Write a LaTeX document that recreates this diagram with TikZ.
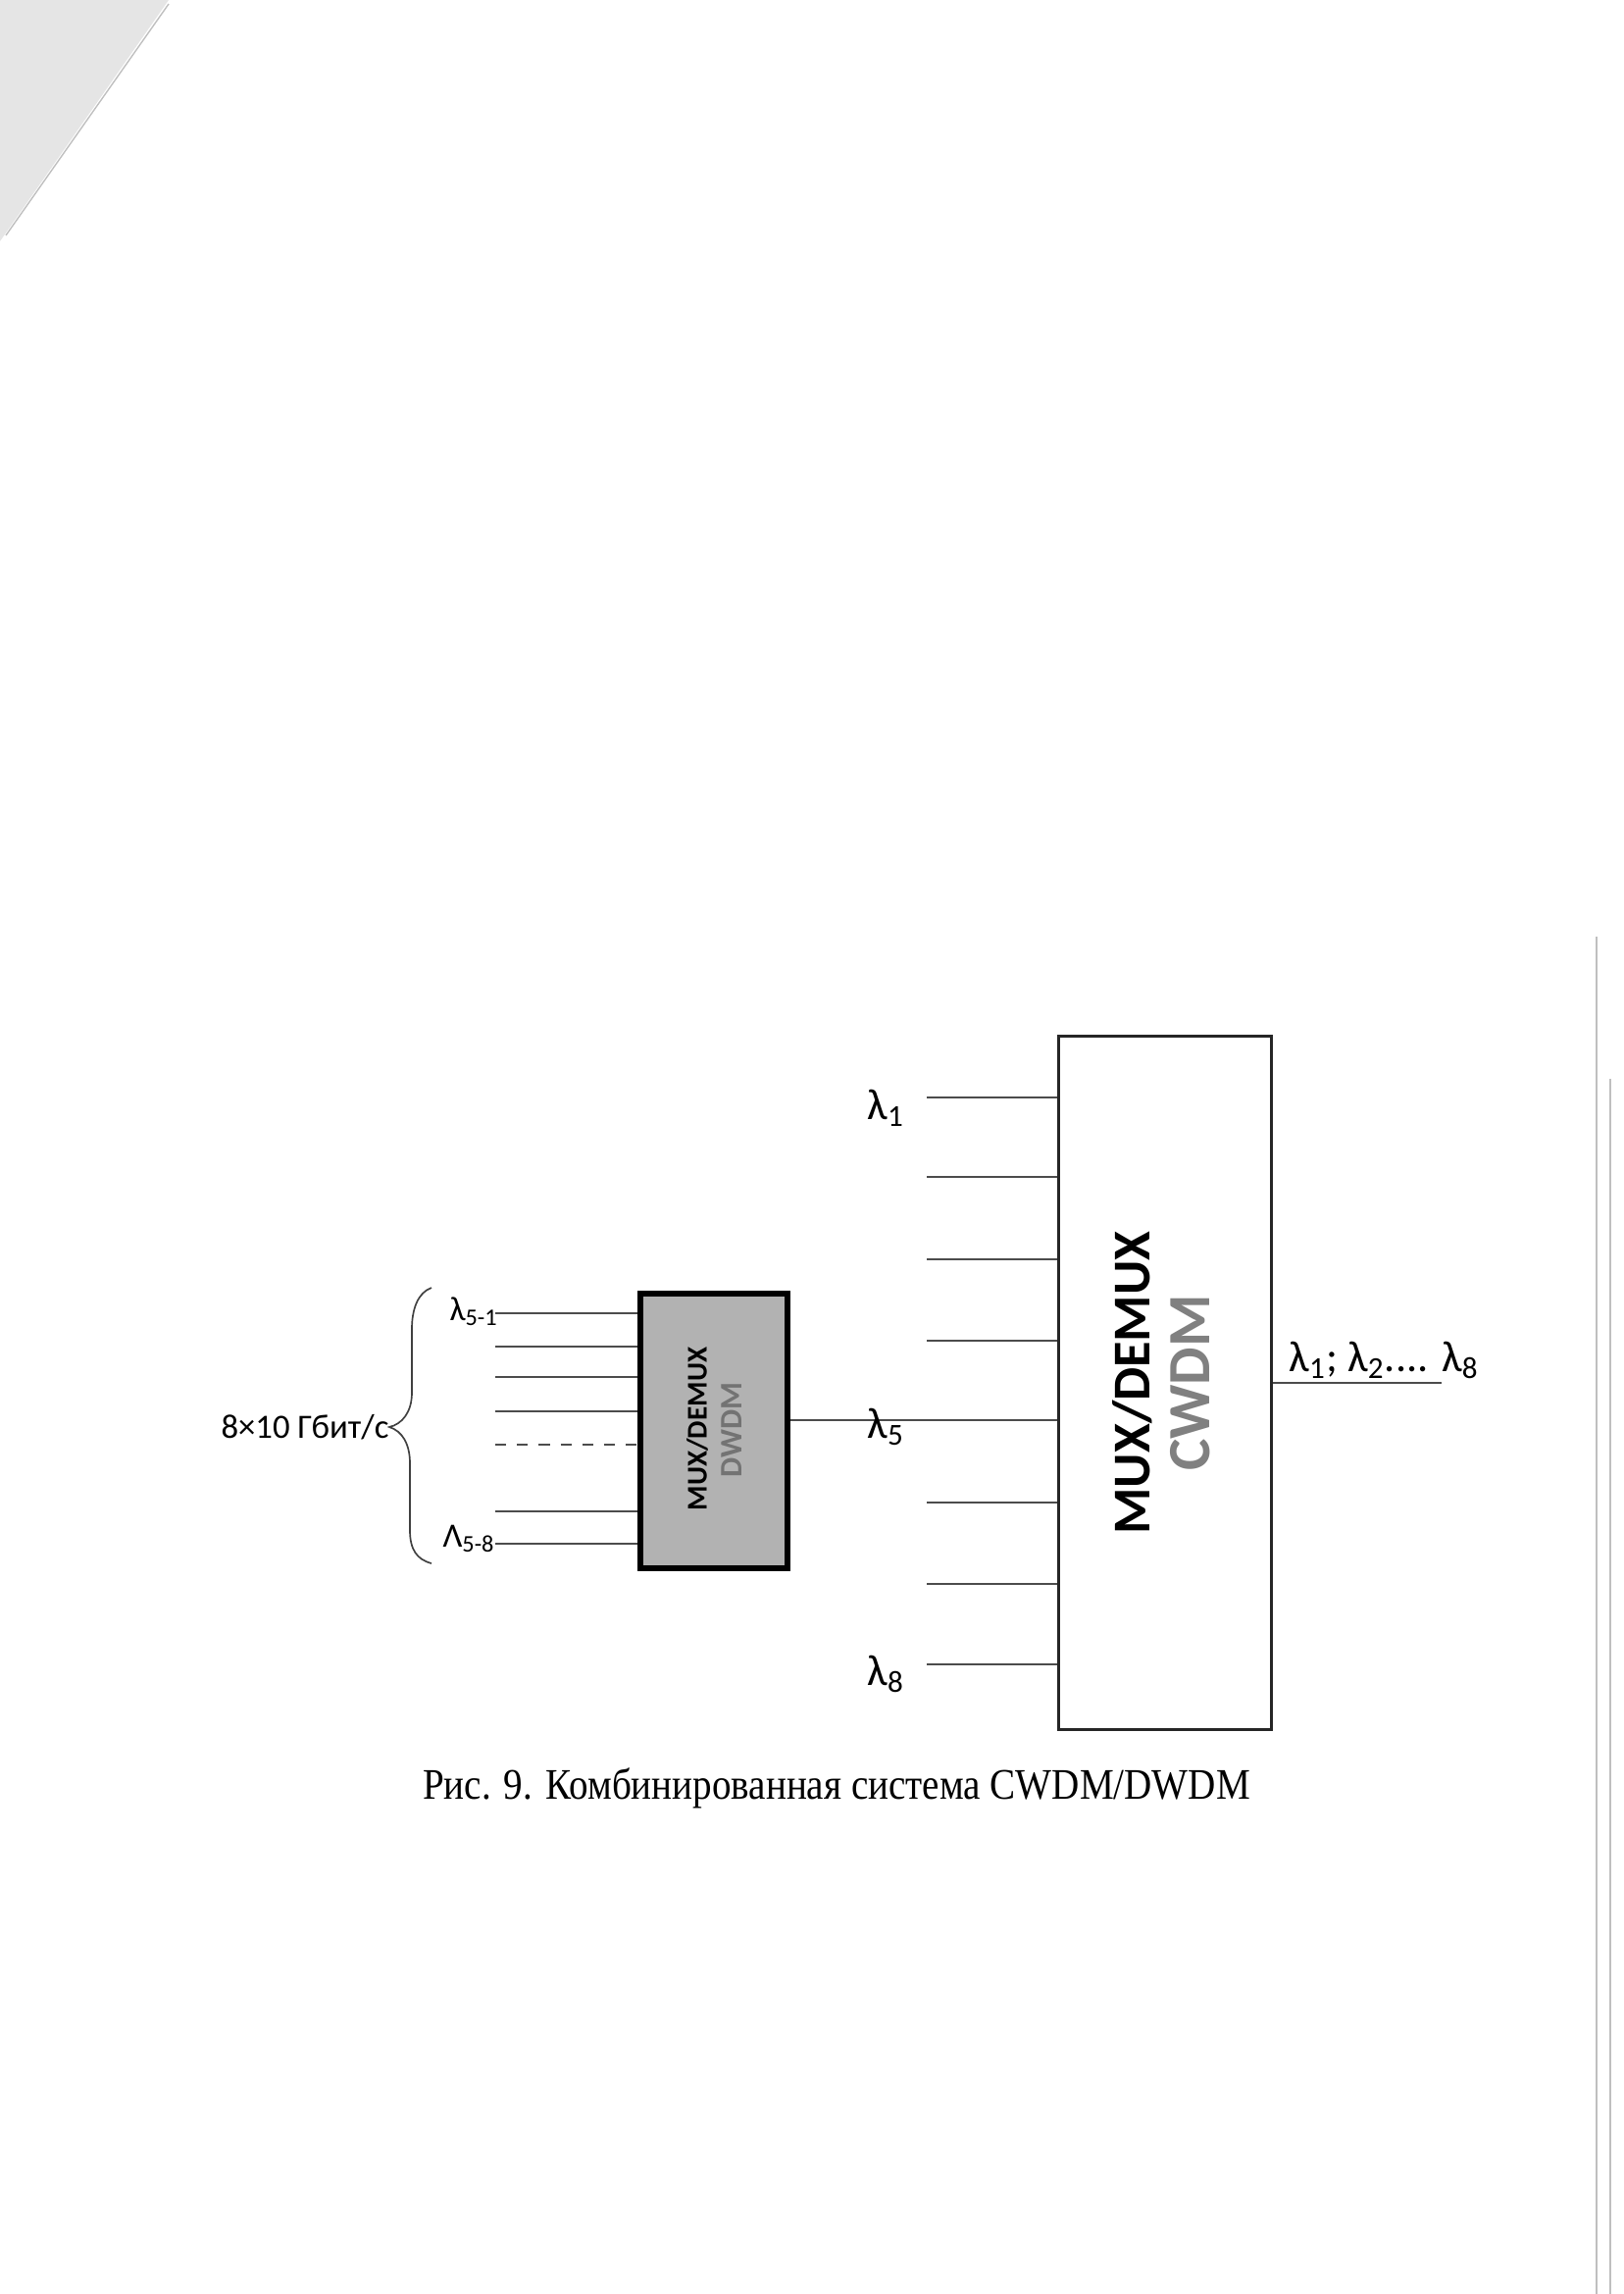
\documentclass[tikz,border=0pt]{standalone}
\usepackage{fontspec}
\setmainfont{Liberation Serif}
\newfontfamily\calfont{Carlito}
\begin{document}
\begin{tikzpicture}[x=0.36pt,y=-0.36pt,
  wire/.style={draw=black!70,line width=0.75pt},
  cwdmbox/.style={draw=black!85,line width=1.1pt,fill=white,minimum width=78.1pt,minimum height=254.2pt,inner sep=0pt},
  dwdmbox/.style={draw=black,line width=2.2pt,fill=black!30,minimum width=54pt,minimum height=100.8pt,inner sep=0pt},
  lam/.style={font=\calfont\fontsize{16}{16}\selectfont,inner sep=0pt},
  slam/.style={font=\calfont\fontsize{12.5}{13}\selectfont,inner sep=0pt},
  bigtxt/.style={rotate=90,font=\calfont\bfseries\fontsize{19.5}{20}\selectfont,inner sep=0pt},
  smalltxt/.style={rotate=90,font=\calfont\bfseries\fontsize{10.5}{11}\selectfont,inner sep=0pt},
  brace/.style={draw=black!75,line width=0.6pt},
  scan/.style={draw=black!25,line width=0.5pt}]
\useasboundingbox (0,0) rectangle (1656,2339);
% scan artefacts
\fill[black!10] (0,0) -- (172,0) -- (0,246) -- cycle;
\draw[scan] (172,4) -- (6,240);
\draw[scan] (1628,955) -- (1628,2339);
\draw[scan] (1642,1100) -- (1642,2339);
% boxes
\node[cwdmbox] (cwdm) at (1188,1410) {};
\node[dwdmbox] (dwdm) at (728,1459) {};
\node[bigtxt,text=black] (cwdmA) at (1155,1410) {MUX/DEMUX};
\node[bigtxt,text=black!50,font=\calfont\bfseries\fontsize{22}{22}\selectfont] (cwdmB) at (1214,1410) {CWDM};
\node[smalltxt,text=black] (dwdmA) at (711,1457) {MUX/DEMUX};
\node[smalltxt,text=black!55,font=\calfont\bfseries\fontsize{11.5}{12}\selectfont] (dwdmB) at (746,1458) {DWDM};
% CWDM inputs
\foreach \i/\y in {1/1119,2/1200,3/1284,4/1367,6/1532,7/1615,8/1697}{
  \coordinate (ci\i) at (945,\y);
  \draw[wire] (ci\i) -- (ci\i -| cwdm.west);
}
\coordinate (ci5) at (945,1448);
\draw[wire] (dwdm.east |- ci5) -- (ci5 -| cwdm.west);
% DWDM inputs
\foreach \i/\y in {1/1339,2/1373,3/1404,4/1439,6/1541,7/1574}{
  \coordinate (di\i) at (505,\y);
  \draw[wire] (di\i) -- (di\i -| dwdm.west);
}
\coordinate (di5) at (505,1473);
\draw[wire,dash pattern=on 4pt off 4pt] (di5) -- (di5 -| dwdm.west);
% output
\coordinate (out) at (1470,1410);
\draw[wire] (out -| cwdm.east) -- (out);
% labels
\node[lam,anchor=base west] (l1) at (884,1141) {λ\textsubscript{1}};
\node[lam,anchor=base west] (l5) at (884,1466) {λ\textsubscript{5}};
\node[lam,anchor=base west] (l8) at (884,1718) {λ\textsubscript{8}};
\node[lam,anchor=base west] (lout) at (1314,1398) {λ\textsubscript{1}; λ\textsubscript{2}.... λ\textsubscript{8}};
\node[slam,anchor=base west] (l51) at (458,1346) {λ\textsubscript{5-1}};
\node[slam,anchor=base west] (l58) at (451,1577) {Λ\textsubscript{5-8}};
% brace
\coordinate (btip) at (397,1455);
\draw[brace] (440,1313) .. controls (426,1318) and (420,1335) .. (420,1355) -- (420,1420)
  .. controls (420,1440) and (410,1452) .. (btip)
  .. controls (410,1459) and (418,1472) .. (418,1492) -- (418,1560)
  .. controls (418,1580) and (425,1590) .. (440,1594);
\node[slam,anchor=east] (rate) at (btip) {8×10 Гбит/с};
% caption
\node[inner sep=0pt,anchor=base,xscale=0.88,font=\fontsize{16}{16}\selectfont] (cap) at (853,1834) {Рис. 9. Комбинированная система CWDM/DWDM};
\end{tikzpicture}
\end{document}
